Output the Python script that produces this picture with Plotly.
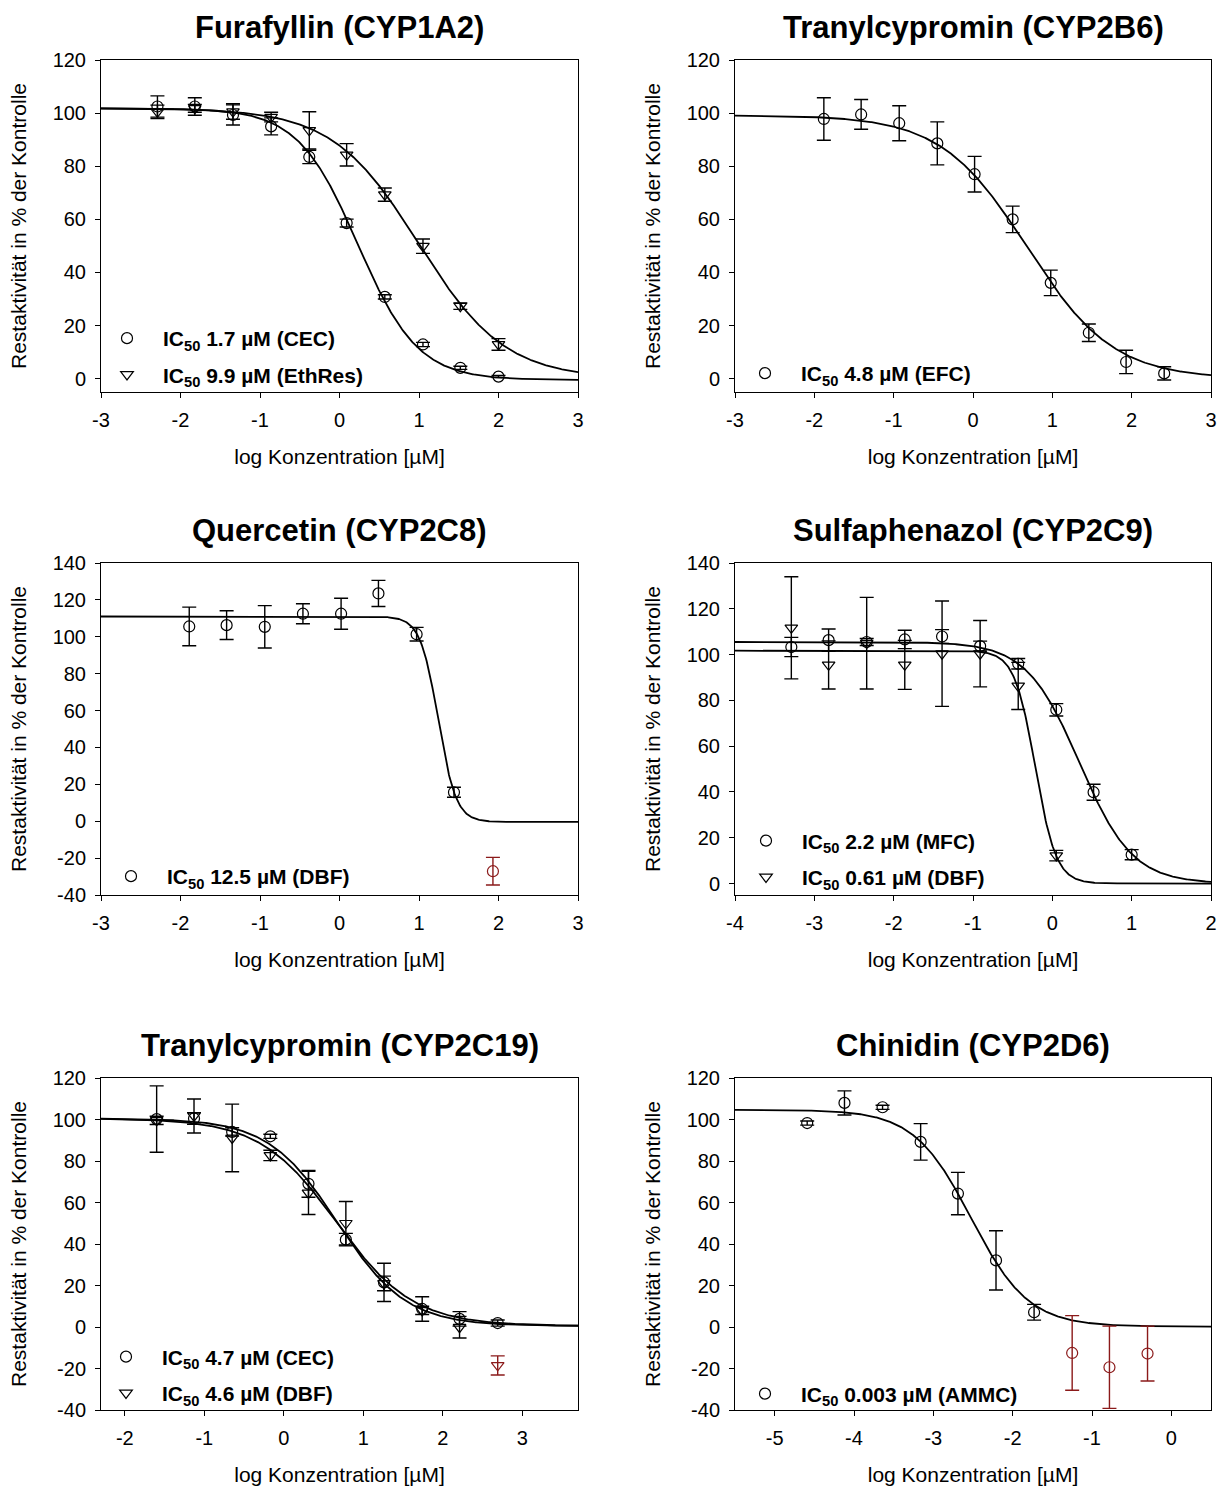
import numpy as np
import plotly.graph_objects as go

FONT = "Liberation Sans, Arial, sans-serif"
BLACK = "#000000"
RED = "#8B1A1A"

# ---------------- data ----------------
# Furafyllin (CYP1A2)
fura_x = [-2.29, -1.82, -1.34, -0.86, -0.38, 0.09, 0.57, 1.05, 1.52, 2.00]
fura_cec = [102.5, 102.5, 99.3, 95.0, 83.5, 58.6, 30.8, 12.9, 4.1, 0.8]
fura_cec_err = [4.0, 3.3, 3.8, 3.2, 2.5, 1.5, 0.8, 0.8, 0.6, 0.4]
fura_eth = [100.5, 101.8, 100.6, 98.5, 93.5, 84.3, 69.3, 49.9, 27.3, 12.9]
fura_eth_err = [2.5, 1.5, 2.9, 1.8, 7.0, 4.2, 2.5, 2.7, 1.2, 2.2]

# Tranylcypromin (CYP2B6)
tcp2b6_x = [-1.88, -1.41, -0.93, -0.45, 0.02, 0.50, 0.98, 1.46, 1.93, 2.41]
tcp2b6_efc = [97.8, 99.5, 96.2, 88.6, 77.0, 60.0, 36.1, 17.3, 6.3, 2.0]
tcp2b6_efc_err = [8.0, 5.6, 6.6, 8.1, 6.7, 5.0, 4.8, 3.3, 4.4, 2.5]

# Quercetin (CYP2C8)
querc_x = [-1.89, -1.42, -0.94, -0.46, 0.02, 0.49, 0.97, 1.44]
querc_dbf = [105.6, 106.3, 105.4, 112.5, 112.5, 123.5, 101.4, 15.7]
querc_dbf_err = [10.5, 7.8, 11.5, 5.4, 8.4, 7.1, 3.7, 2.7]
querc_excl_x = [1.93]
querc_excl_y = [-27.1]
querc_excl_err = [7.5]

# Sulfaphenazol (CYP2C9)
sulfa_x = [-3.29, -2.82, -2.34, -1.86, -1.39, -0.91, -0.43, 0.05, 0.52, 1.00]
sulfa_mfc = [103.3, 106.3, 105.5, 106.6, 107.9, 103.7, 96.0, 75.9, 39.9, 12.6]
sulfa_mfc_err = [4.2, 4.9, 1.5, 4.0, 3.0, 2.2, 2.3, 2.7, 3.5, 2.2]
sulfa_dbf_x = [-3.29, -2.82, -2.34, -1.86, -1.39, -0.91, -0.43, 0.05]
sulfa_dbf = [111.7, 95.5, 105.0, 95.5, 100.4, 100.4, 86.3, 12.2]
sulfa_dbf_err = [22.3, 10.5, 20.0, 10.7, 23.0, 14.5, 10.3, 2.3]

# Tranylcypromin (CYP2C19)
tcp2c19_x = [-1.60, -1.13, -0.65, -0.17, 0.31, 0.78, 1.26, 1.74, 2.21, 2.69]
tcp2c19_cec = [100.2, 100.5, 94.0, 91.9, 69.0, 42.1, 21.5, 8.7, 3.9, 1.9]
tcp2c19_cec_err = [16.0, 2.8, 2.0, 1.0, 6.5, 3.0, 9.2, 5.9, 3.5, 1.5]
tcp2c19_dbf_x = [-1.60, -1.13, -0.65, -0.17, 0.31, 0.78, 1.26, 1.74, 2.21]
tcp2c19_dbf = [99.6, 101.7, 91.1, 82.7, 64.6, 50.0, 21.0, 8.0, -0.1]
tcp2c19_dbf_err = [2.0, 8.2, 16.3, 2.5, 10.4, 10.5, 3.5, 2.0, 5.2]
tcp2c19_excl_x = [2.69]
tcp2c19_excl_y = [-18.5]
tcp2c19_excl_err = [4.6]

# Chinidin (CYP2D6)
chin_x = [-4.59, -4.12, -3.64, -3.16, -2.69, -2.21, -1.73]
chin_ammc = [98.3, 108.0, 105.9, 89.2, 64.3, 32.1, 7.1]
chin_ammc_err = [1.0, 5.8, 1.0, 8.8, 10.2, 14.3, 3.8]
chin_excl_x = [-1.25, -0.78, -0.30]
chin_excl_y = [-12.5, -19.4, -12.8]
chin_excl_err = [18.0, 19.8, 13.2]

# fitted four-parameter logistic curves: top, bottom, midpoint [µM], Hill slope
fit_fura_cec = [101.8, -0.5, 1.7, 1.15]
fit_fura_eth = [101.8, 0.0, 9.9, 0.8]
fit_tcp2b6_efc = [99.2, 0.0, 4.8, 0.8]
fit_querc_dbf = [111.0, -0.4, 17.4, 3.86]
fit_sulfa_mfc = [105.5, 0.0, 2.2, 1.3]
fit_sulfa_dbf = [101.7, 0.0, 0.61, 3.3]
fit_tcp2c19_cec = [100.5, 0.5, 4.7, 1.0]
fit_tcp2c19_dbf = [100.5, 0.5, 4.6, 0.9]
fit_chin_ammc = [104.7, 0.2, 0.003, 1.2]

# legend texts (IC50 values)
labels = {
    "fura_cec": "<b>IC<sub>50</sub> 1.7 µM (CEC)</b>",
    "fura_eth": "<b>IC<sub>50</sub> 9.9 µM (EthRes)</b>",
    "tcp2b6_efc": "<b>IC<sub>50</sub> 4.8 µM (EFC)</b>",
    "querc_dbf": "<b>IC<sub>50</sub> 12.5 µM (DBF)</b>",
    "sulfa_mfc": "<b>IC<sub>50</sub> 2.2 µM (MFC)</b>",
    "sulfa_dbf": "<b>IC<sub>50</sub> 0.61 µM (DBF)</b>",
    "tcp2c19_cec": "<b>IC<sub>50</sub> 4.7 µM (CEC)</b>",
    "tcp2c19_dbf": "<b>IC<sub>50</sub> 4.6 µM (DBF)</b>",
    "chin_ammc": "<b>IC<sub>50</sub> 0.003 µM (AMMC)</b>",
}

X_TITLE = "log Konzentration [µM]"
Y_TITLE = "Restaktivität in % der Kontrolle"

# ---------------- layout helpers ----------------
W, H = 1218, 1488
LEG_ITEMWIDTH = 62


def dom_x(left, right):
    return [left / W, right / W]


def dom_y(top, bottom):
    return [1 - bottom / H, 1 - top / H]


def logistic(params, x):
    top, bottom, mid, hill = params
    return bottom + (top - bottom) / (1 + 10 ** (hill * (x - np.log10(mid))))


panels = [
    dict(title="Furafyllin (CYP1A2)", xr=[-3, 3], yr=[-5, 120], yt=list(range(0, 121, 20)),
         box=(101, 578, 60, 392),
         series=[(fura_x, fura_cec, fura_cec_err, "circle-open", fit_fura_cec, "fura_cec"),
                 (fura_x, fura_eth, fura_eth_err, "triangle-down-open", fit_fura_eth, "fura_eth")],
         excl=None, leg=(163, 318)),
    dict(title="Tranylcypromin (CYP2B6)", xr=[-3, 3], yr=[-5, 120], yt=list(range(0, 121, 20)),
         box=(735, 1211, 60, 392),
         series=[(tcp2b6_x, tcp2b6_efc, tcp2b6_efc_err, "circle-open", fit_tcp2b6_efc, "tcp2b6_efc")],
         excl=None, leg=(801, 353)),
    dict(title="Quercetin (CYP2C8)", xr=[-3, 3], yr=[-40, 140], yt=list(range(-40, 141, 20)),
         box=(101, 578, 563, 895),
         series=[(querc_x, querc_dbf, querc_dbf_err, "circle-open", fit_querc_dbf, "querc_dbf")],
         excl=(querc_excl_x, querc_excl_y, querc_excl_err, "circle-open"), leg=(167, 856)),
    dict(title="Sulfaphenazol (CYP2C9)", xr=[-4, 2], yr=[-5, 140], yt=list(range(0, 141, 20)),
         box=(735, 1211, 563, 895),
         series=[(sulfa_x, sulfa_mfc, sulfa_mfc_err, "circle-open", fit_sulfa_mfc, "sulfa_mfc"),
                 (sulfa_dbf_x, sulfa_dbf, sulfa_dbf_err, "triangle-down-open", fit_sulfa_dbf, "sulfa_dbf")],
         excl=None, leg=(802, 820.5)),
    dict(title="Tranylcypromin (CYP2C19)", xr=[-2.3, 3.7], yr=[-40, 120], yt=list(range(-40, 121, 20)),
         box=(101, 578, 1078, 1410),
         series=[(tcp2c19_x, tcp2c19_cec, tcp2c19_cec_err, "circle-open", fit_tcp2c19_cec, "tcp2c19_cec"),
                 (tcp2c19_dbf_x, tcp2c19_dbf, tcp2c19_dbf_err, "triangle-down-open", fit_tcp2c19_dbf, "tcp2c19_dbf")],
         excl=(tcp2c19_excl_x, tcp2c19_excl_y, tcp2c19_excl_err, "triangle-down-open"), leg=(162, 1336.5)),
    dict(title="Chinidin (CYP2D6)", xr=[-5.5, 0.5], yr=[-40, 120], yt=list(range(-40, 121, 20)),
         box=(735, 1211, 1078, 1410),
         series=[(chin_x, chin_ammc, chin_ammc_err, "circle-open", fit_chin_ammc, "chin_ammc")],
         excl=(chin_excl_x, chin_excl_y, chin_excl_err, "circle-open"), leg=(801, 1373.5)),
]

fig = go.Figure()
annotations = []
layout_axes = {}

for i, p in enumerate(panels, start=1):
    sfx = "" if i == 1 else str(i)
    xa, ya = "x" + sfx, "y" + sfx
    leg_name = "legend" + sfx
    left, right, top, bottom = p["box"]

    # fitted curves
    for xs, ys, errs, sym, fit, key in p["series"]:
        xc = np.linspace(p["xr"][0], p["xr"][1], 600)
        fig.add_trace(go.Scatter(
            x=xc, y=logistic(fit, xc), mode="lines",
            line=dict(color=BLACK, width=1.8),
            xaxis=xa, yaxis=ya, showlegend=False, hoverinfo="skip"))

    # measured points with SD bars
    for xs, ys, errs, sym, fit, key in p["series"]:
        fig.add_trace(go.Scatter(
            x=xs, y=ys, mode="markers", name=labels[key],
            marker=dict(symbol=sym, size=11, color=BLACK, line=dict(width=1.2, color=BLACK)),
            error_y=dict(type="data", array=errs, visible=True, color=BLACK, thickness=1.4, width=7),
            xaxis=xa, yaxis=ya, legend=leg_name, legendgroup=key, showlegend=True))

    # points excluded from the fit
    if p["excl"] is not None:
        ex, ey, ee, esym = p["excl"]
        fig.add_trace(go.Scatter(
            x=ex, y=ey, mode="markers",
            marker=dict(symbol=esym, size=11, color=RED, line=dict(width=1.2, color=RED)),
            error_y=dict(type="data", array=ee, visible=True, color=RED, thickness=1.4, width=7),
            xaxis=xa, yaxis=ya, showlegend=False))

    xticks = list(range(int(np.ceil(p["xr"][0])), int(np.floor(p["xr"][1])) + 1))
    axis_common = dict(showline=True, linecolor=BLACK, linewidth=1, mirror=True,
                       ticks="outside", ticklen=5, tickcolor=BLACK, tickwidth=1,
                       ticklabelstandoff=5,
                       showgrid=False, zeroline=False,
                       tickfont=dict(family=FONT, size=20, color=BLACK))
    layout_axes["xaxis" + sfx] = dict(axis_common, domain=dom_x(left, right), range=p["xr"],
                                      anchor=ya, tickmode="array", tickvals=xticks,
                                      ticktext=[str(v) for v in xticks],
                                      title=dict(text=X_TITLE, standoff=19,
                                                 font=dict(family=FONT, size=21, color=BLACK)))
    layout_axes["yaxis" + sfx] = dict(axis_common, domain=dom_y(top, bottom), range=p["yr"],
                                      anchor=xa, tickmode="array", tickvals=p["yt"],
                                      ticktext=[str(v) for v in p["yt"]],
                                      title=dict(text=Y_TITLE, standoff=20,
                                                 font=dict(family=FONT, size=21, color=BLACK)))

    text_x, leg_top = p["leg"]
    layout_axes[leg_name] = dict(x=(text_x - LEG_ITEMWIDTH - 10) / W, y=1 - leg_top / H,
                                 xanchor="left", yanchor="top",
                                 bgcolor="rgba(0,0,0,0)", borderwidth=0,
                                 font=dict(family=FONT, size=21, color=BLACK),
                                 itemwidth=LEG_ITEMWIDTH, traceorder="grouped", tracegroupgap=6,
                                 itemclick=False, itemdoubleclick=False)

    cx = (left + right) / 2
    annotations.append(dict(text="<b>%s</b>" % p["title"], x=cx / W, y=1 - (top - 33) / H,
                            xref="paper", yref="paper", showarrow=False, xanchor="center",
                            yanchor="middle", font=dict(family=FONT, size=31, color=BLACK)))

fig.update_layout(
    width=W, height=H,
    margin=dict(l=0, r=0, t=0, b=0, autoexpand=False),
    paper_bgcolor="white", plot_bgcolor="white",
    annotations=annotations,
    **layout_axes,
)

fig.write_html("out.html")
